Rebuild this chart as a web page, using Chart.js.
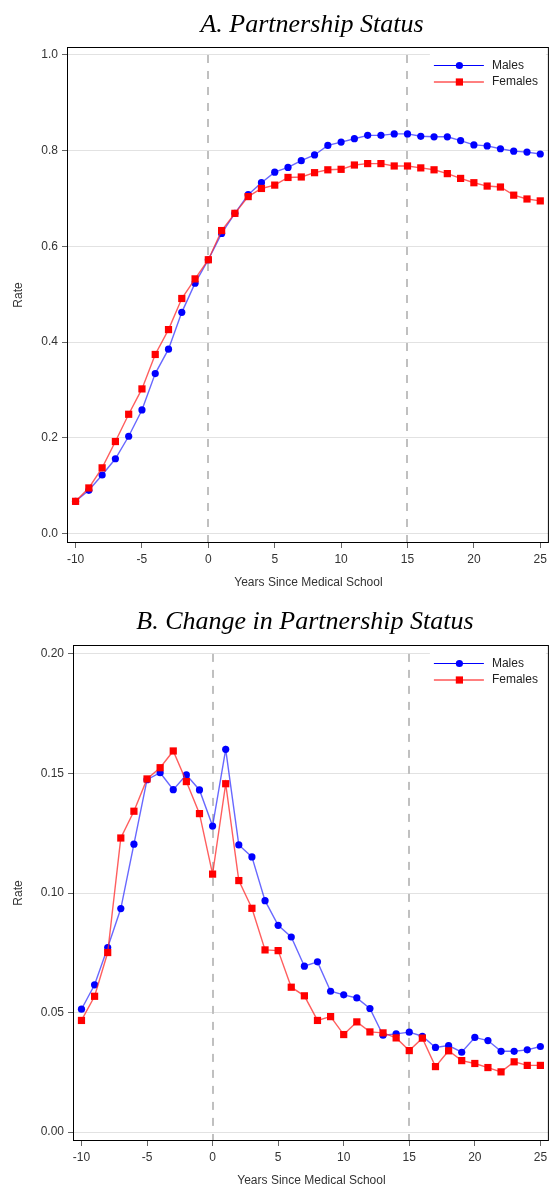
<!DOCTYPE html>
<html><head><meta charset="utf-8">
<script src="https://cdn.jsdelivr.net/npm/chart.js@4.4.1/dist/chart.umd.min.js"></script>
<style>
html,body{margin:0;padding:0;background:#fff;overflow:hidden;}
#wrap{position:relative;width:554px;height:1189px;}
canvas{position:absolute;left:0;}
.title{position:absolute;font-family:'Liberation Serif','Times New Roman',serif;font-style:italic;font-size:26px;line-height:26px;white-space:nowrap;transform:translateX(-50%);color:#000;}
</style></head><body>
<div id="wrap">
<canvas id="cA" width="554" height="600" style="top:0"></canvas>
<canvas id="cB" width="554" height="589" style="top:600px"></canvas>
<div class="title" style="left:312px;top:11px;">A. Partnership Status</div>
<div class="title" style="left:305px;top:608px;">B. Change in Partnership Status</div>
</div>
<script>
const years=[-10,-9,-8,-7,-6,-5,-4,-3,-2,-1,0,1,2,3,4,5,6,7,8,9,10,11,12,13,14,15,16,17,18,19,20,21,22,23,24,25];
const malesA=[0.067,0.090,0.122,0.156,0.203,0.258,0.334,0.385,0.462,0.523,0.572,0.627,0.669,0.708,0.733,0.755,0.765,0.779,0.791,0.811,0.818,0.825,0.832,0.832,0.835,0.835,0.830,0.829,0.829,0.821,0.812,0.810,0.804,0.799,0.797,0.793];
const femalesA=[0.067,0.095,0.137,0.192,0.249,0.302,0.374,0.426,0.491,0.532,0.572,0.633,0.669,0.704,0.721,0.728,0.744,0.745,0.754,0.760,0.761,0.770,0.773,0.773,0.768,0.768,0.764,0.760,0.752,0.742,0.733,0.726,0.724,0.707,0.699,0.695];
const malesB=[0.0514,0.0616,0.0772,0.0935,0.1204,0.1474,0.1503,0.1432,0.1494,0.1431,0.1280,0.1601,0.1201,0.1151,0.0968,0.0865,0.0816,0.0694,0.0712,0.0589,0.0574,0.0561,0.0517,0.0405,0.0411,0.0418,0.0401,0.0354,0.0362,0.0334,0.0396,0.0383,0.0338,0.0338,0.0344,0.0358];
const femalesB=[0.0467,0.0568,0.0751,0.1230,0.1342,0.1477,0.1524,0.1594,0.1466,0.1332,0.1079,0.1457,0.1052,0.0936,0.0762,0.0759,0.0606,0.0570,0.0467,0.0483,0.0408,0.0461,0.0419,0.0415,0.0394,0.0341,0.0393,0.0274,0.0340,0.0299,0.0287,0.0270,0.0252,0.0294,0.0279,0.0279];
const xTicks=[-10,-5,0,5,10,15,20,25];
const yTicksA=[0,0.2,0.4,0.6,0.8,1.0];
const yTicksB=[0,0.05,0.10,0.15,0.20];
const refLines=[0,15];
const seriesNames=['Males','Females'];
const xTitle='Years Since Medical School';
const yTitle='Rate';

Chart.defaults.font.family="'Liberation Sans', Arial, sans-serif";
Chart.defaults.font.size=12;

function makeChart(id, males, females, yTicks, cfg){
  const plugin={
    id:'deco_'+id,
    beforeDatasetsDraw(chart){
      const {ctx, chartArea:a, scales:{x,y}}=chart;
      ctx.save();
      ctx.strokeStyle='#c0c0c0';ctx.lineWidth=2;ctx.setLineDash([8,8]);
      const yTop=y.getPixelForValue(yTicks[yTicks.length-1]);
      refLines.forEach(v=>{
        const px=Math.round(x.getPixelForValue(v));
        ctx.beginPath();ctx.moveTo(px,yTop);ctx.lineTo(px,a.bottom);ctx.stroke();
      });
      ctx.restore();
    },
    afterDraw(chart){
      const {ctx, chartArea:a}=chart;
      ctx.save();
      ctx.fillStyle='#fff';
      ctx.fillRect(a.right-119,a.top+1,116,46);
      const rows=[a.top+17.5,a.top+34];
      const cols=['#0000ff','#ff0000'];
      rows.forEach((ry,i)=>{
        ctx.strokeStyle=cols[i];ctx.lineWidth=1;
        ctx.beginPath();ctx.moveTo(a.right-115,ry);ctx.lineTo(a.right-65,ry);ctx.stroke();
        ctx.fillStyle=cols[i];
        const mx=a.right-89.5;
        if(i===0){ctx.beginPath();ctx.arc(mx,ry,3.6,0,Math.PI*2);ctx.fill();}
        else{ctx.fillRect(mx-3.6,ry-3.6,7.2,7.2);}
        ctx.fillStyle='#222';ctx.font="12px 'Liberation Sans', Arial, sans-serif";
        ctx.textBaseline='middle';ctx.textAlign='left';
        ctx.fillText(seriesNames[i],a.right-57,ry);
      });
      ctx.strokeStyle='#000';ctx.lineWidth=1;
      ctx.strokeRect(a.left-0.5,a.top-0.5,a.right-a.left,a.bottom-a.top+1);
      ctx.restore();
    }
  };
  return new Chart(document.getElementById(id),{
    type:'line',
    data:{datasets:[
      {label:seriesNames[0],data:years.map((x,i)=>({x,y:males[i]})),borderColor:'rgba(40,40,255,0.7)',borderWidth:1.4,
       pointStyle:'circle',pointRadius:3.6,pointBackgroundColor:'#0000ff',pointBorderColor:'#0000ff',pointBorderWidth:0,order:2,tension:0},
      {label:seriesNames[1],data:years.map((x,i)=>({x,y:females[i]})),borderColor:'rgba(255,40,40,0.75)',borderWidth:1.4,
       pointStyle:'rect',pointRadius:5.1,pointBackgroundColor:'#ff0000',pointBorderColor:'#ff0000',pointBorderWidth:0,order:1,tension:0}
    ]},
    options:{
      responsive:false,animation:false,events:[],
      layout:{padding:{top:cfg.top,right:cfg.right,left:0,bottom:0}},
      plugins:{legend:{display:false},tooltip:{enabled:false}},
      scales:{
        x:{type:'linear',min:-10.57,max:25.65,
          afterBuildTicks:s=>{s.ticks=xTicks.map(v=>({value:v}));},
          afterFit:s=>{s.height=cfg.xh;},
          grid:{drawOnChartArea:false,tickColor:'#666',tickLength:6},
          border:{display:false},
          ticks:{color:'#333',padding:4,maxRotation:0,autoSkip:false,callback:v=>String(v)},
          title:{display:true,text:xTitle,color:'#333',padding:{top:0,bottom:cfg.tpb}}},
        y:{type:'linear',min:cfg.ymin,max:cfg.ymax,
          afterBuildTicks:s=>{s.ticks=yTicks.map(v=>({value:v}));},
          afterFit:s=>{s.width=cfg.yw;},
          grid:{color:'#e2e2e2',tickColor:'#666',tickLength:6},
          border:{display:false},
          ticks:{color:'#333',padding:4,autoSkip:false,callback:v=>Number(v).toFixed(cfg.dec)},
          title:{display:true,text:yTitle,color:'#333',padding:{top:11,bottom:0}}}
      }
    },
    plugins:[plugin]
  });
}
makeChart('cA',malesA,femalesA,yTicksA,{top:48,right:2,xh:58,yw:68,ymin:-0.018,ymax:1.0146,dec:1,tpb:10});
makeChart('cB',malesB,femalesB,yTicksB,{top:46,right:1,xh:49,yw:74,ymin:-0.0033,ymax:0.2033,dec:2,tpb:1});
</script>
</body></html>
